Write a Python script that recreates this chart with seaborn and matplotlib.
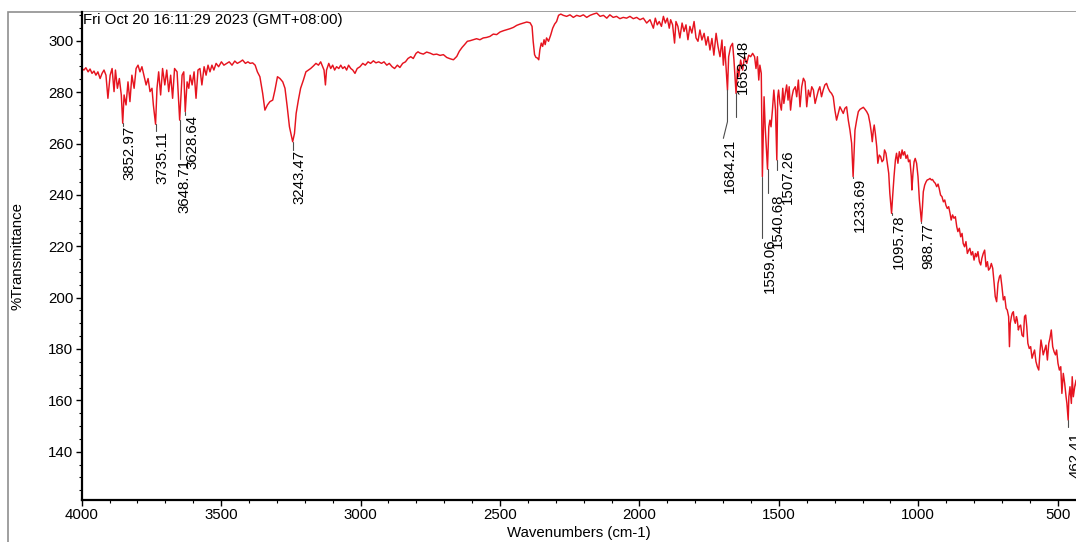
import matplotlib
matplotlib.use("Agg")
import matplotlib.pyplot as plt
from matplotlib.patches import Rectangle
from matplotlib.ticker import MultipleLocator
import pandas as pd
import seaborn as sns

# ---- FTIR spectrum, %Transmittance vs wavenumber (cm-1) ----
wn_4000_3400 = [4000, 3992, 3985, 3977, 3970, 3963, 3956, 3949, 3942, 3934,
                3927, 3920, 3913, 3906, 3898, 3891, 3884, 3879, 3872, 3865,
                3858, 3852.97, 3848, 3841, 3834, 3827, 3820, 3812, 3805, 3798,
                3791, 3784, 3777, 3769, 3762, 3755, 3748, 3743, 3735.11, 3730,
                3724, 3717, 3710, 3702, 3695, 3688, 3681, 3674, 3667, 3658,
                3648.71, 3640, 3634, 3628.64, 3622, 3616, 3611, 3604, 3597, 3590,
                3583, 3576, 3569, 3561, 3554, 3547, 3540, 3533, 3526, 3518,
                3509, 3499, 3490, 3480, 3471, 3461, 3451, 3442, 3432, 3423,
                3413, 3404]
t_4000_3400 = [289.2, 288.6, 289.5, 287.9, 289.0, 287.3, 288.2, 286.6, 287.9, 285.3,
               287.3, 288.6, 286.6, 277.6, 286.6, 289.2, 280.2, 288.6, 281.5, 285.3,
               278.9, 267.9, 278.9, 275.0, 284.0, 276.3, 286.6, 281.5, 289.2, 290.5,
               287.9, 289.9, 286.6, 282.8, 285.3, 280.2, 281.5, 275.0, 267.5, 281.5,
               287.9, 278.9, 289.2, 282.8, 288.6, 280.2, 286.6, 277.6, 289.2, 287.9,
               269.1, 286.6, 287.9, 272.4, 284.0, 281.5, 286.6, 282.8, 287.9, 277.6,
               288.6, 289.2, 282.8, 289.9, 286.6, 290.5, 287.9, 290.5, 288.6, 291.2,
               289.9, 291.8, 290.5, 291.2, 291.8, 290.5, 292.1, 291.2, 291.8, 292.5,
               291.2, 291.8]

wn_3400_2790 = [3396, 3387, 3378, 3370, 3361, 3351, 3343, 3334, 3325, 3315,
                3307, 3298, 3289, 3279, 3271, 3263, 3255, 3243.47, 3237, 3231,
                3223, 3215, 3205, 3196, 3187, 3179, 3169, 3160, 3151, 3143,
                3136, 3131, 3126, 3122, 3114, 3107, 3100, 3093, 3086, 3078,
                3071, 3064, 3057, 3050, 3043, 3035, 3028, 3020, 3012, 3002,
                2992, 2983, 2973, 2964, 2954, 2945, 2935, 2925, 2916, 2906,
                2897, 2887, 2878, 2868, 2859, 2849, 2839, 2830, 2820, 2811,
                2801, 2794]
t_3400_2790 = [291.2, 291.4, 290.5, 287.9, 286.0, 279.5, 273.0, 275.0, 276.3, 276.9,
               280.8, 286.0, 285.3, 284.0, 281.5, 274.3, 266.5, 260.7, 263.9, 271.7,
               276.9, 281.5, 284.7, 287.9, 288.6, 289.2, 290.2, 291.2, 290.5, 291.8,
               289.9, 288.6, 282.8, 288.6, 291.2, 289.2, 290.5, 288.6, 289.9, 289.2,
               290.5, 289.2, 289.9, 288.6, 290.5, 289.2, 288.6, 287.3, 289.2, 289.9,
               291.2, 290.5, 291.8, 291.2, 292.2, 291.4, 291.8, 291.2, 291.8, 290.5,
               291.2, 289.9, 289.2, 290.5, 289.6, 291.2, 291.8, 293.1, 293.8, 293.1,
               295.1, 295.7]

wn_2790_1790 = [2787, 2775, 2763, 2751, 2739, 2727, 2715, 2703, 2691, 2679,
                2667, 2655, 2646, 2636, 2627, 2617, 2608, 2596, 2584, 2572,
                2560, 2548, 2536, 2524, 2512, 2500, 2488, 2476, 2464, 2452,
                2440, 2428, 2416, 2404, 2392, 2385, 2381, 2376, 2371, 2366,
                2361, 2357, 2352, 2347, 2342, 2338, 2333, 2326, 2318, 2311,
                2304, 2297, 2290, 2282, 2273, 2261, 2249, 2237, 2225, 2213,
                2201, 2189, 2177, 2165, 2153, 2141, 2129, 2117, 2106, 2094,
                2082, 2070, 2058, 2046, 2034, 2022, 2010, 1998, 1986, 1974,
                1962, 1950, 1943, 1936, 1929, 1921, 1914, 1907, 1900, 1893,
                1888, 1881, 1874, 1869, 1862, 1855, 1847, 1840, 1833, 1826,
                1819, 1812, 1804, 1797, 1790]
t_2790_1790 = [295.2, 294.8, 295.6, 295.2, 294.6, 294.8, 294.3, 294.6, 293.5, 293.0,
               292.6, 293.9, 295.9, 297.4, 298.5, 299.8, 300.0, 300.4, 300.8, 300.4,
               301.1, 301.3, 301.7, 302.6, 302.4, 303.4, 303.9, 304.3, 304.7, 305.2,
               306.0, 306.5, 306.9, 307.3, 307.0, 305.6, 299.8, 294.6, 293.5, 293.3,
               292.6, 296.5, 299.1, 297.8, 300.4, 298.5, 301.1, 299.8, 302.3, 304.9,
               306.5, 307.5, 309.9, 310.4, 309.9, 309.5, 310.1, 309.1, 309.9, 309.5,
               310.1, 309.1, 309.9, 310.4, 310.8, 309.5, 309.9, 308.8, 310.1, 309.1,
               309.5, 308.6, 309.1, 308.8, 309.5, 308.6, 309.1, 308.2, 308.8, 306.9,
               308.2, 304.9, 308.8, 306.2, 307.5, 305.6, 309.5, 306.9, 308.8, 304.9,
               308.2, 306.2, 299.1, 307.5, 305.6, 301.1, 306.9, 303.6, 306.2, 300.4,
               305.6, 303.0, 307.5, 301.1, 299.8]

wn_1790_1230 = [1783, 1776, 1768, 1761, 1754, 1747, 1740, 1733, 1725, 1718,
                1711, 1704, 1699, 1694, 1684.21, 1680, 1673, 1666, 1661, 1653.48,
                1648, 1644, 1637, 1630, 1623, 1615, 1608, 1601, 1594, 1587,
                1582, 1577, 1572, 1568, 1563, 1559.06, 1553, 1549, 1540.68, 1536,
                1532, 1528, 1523, 1518, 1512, 1507.26, 1504, 1501, 1496, 1491,
                1486, 1482, 1477, 1472, 1467, 1463, 1458, 1453, 1448, 1441,
                1436, 1430, 1424, 1418, 1412, 1406, 1400, 1394, 1388, 1382,
                1376, 1370, 1364, 1358, 1353, 1347, 1341, 1335, 1329, 1323,
                1317, 1311, 1305, 1299, 1293, 1287, 1281, 1275, 1269, 1263,
                1257, 1251, 1245, 1239, 1233.69]
t_1790_1230 = [304.2, 300.3, 302.9, 298.3, 301.6, 296.4, 300.9, 294.4, 302.9, 297.7,
               293.8, 300.3, 290.5, 297.7, 280.8, 293.8, 297.7, 299.0, 292.5, 279.5,
               289.9, 286.0, 292.5, 288.6, 293.8, 291.2, 294.4, 293.8, 295.1, 293.8,
               289.2, 293.8, 284.7, 290.5, 287.3, 247.1, 278.2, 266.5, 250.0, 266.5,
               269.1, 266.5, 273.0, 280.8, 273.0, 253.6, 278.2, 280.8, 275.6, 273.0,
               281.5, 275.6, 279.5, 282.8, 276.9, 282.1, 273.0, 278.2, 280.8, 282.1,
               278.2, 284.7, 274.3, 282.1, 285.4, 284.1, 274.3, 280.8, 278.2, 282.1,
               280.8, 275.6, 278.2, 280.8, 282.1, 278.2, 280.8, 282.8, 283.4, 281.5,
               280.2, 279.5, 278.2, 273.0, 269.1, 271.7, 274.3, 273.0, 271.7, 273.7,
               274.3, 269.1, 265.2, 260.1, 247.1]

wn_1230_740 = [1227, 1221, 1215, 1209, 1203, 1197, 1191, 1185, 1179, 1173,
               1168, 1165, 1161, 1158, 1154, 1149, 1145, 1140, 1135, 1130,
               1125, 1121, 1116, 1111, 1106, 1102, 1095.78, 1092, 1087, 1082,
               1078, 1073, 1068, 1063, 1058, 1054, 1049, 1044, 1039, 1035,
               1030, 1025, 1023, 1019, 1015, 1011, 1006, 1001, 996, 988.77,
               985, 982, 977, 972, 968, 963, 958, 953, 949, 944,
               939, 934, 929, 925, 920, 915, 910, 905, 901, 896,
               891, 886, 882, 877, 872, 867, 862, 858, 853, 848,
               843, 839, 834, 829, 824, 819, 815, 810, 805, 800,
               795, 791, 786, 781, 776, 772, 767, 762, 757, 752,
               748, 743]
t_1230_740 = [265.2, 269.1, 272.4, 273.3, 273.7, 274.1, 273.3, 272.4, 271.1, 267.8,
              263.9, 260.7, 265.2, 267.2, 263.9, 258.8, 252.3, 255.5, 254.9, 252.9,
              253.6, 257.5, 256.2, 252.3, 248.4, 240.6, 232.8, 239.3, 247.1, 253.6,
              256.2, 252.3, 256.8, 254.2, 257.5, 255.5, 256.8, 254.2, 255.5, 252.9,
              253.6, 247.1, 241.9, 248.4, 252.9, 254.2, 252.3, 247.1, 238.0, 229.6,
              235.4, 241.2, 243.8, 245.1, 245.8, 246.0, 246.4, 245.8, 246.0, 245.1,
              244.5, 243.2, 244.2, 242.5, 239.9, 239.3, 237.3, 238.0, 236.0, 234.7,
              235.4, 232.8, 230.2, 232.2, 230.9, 231.5, 227.6, 225.7, 227.0, 223.7,
              225.0, 221.1, 219.8, 221.8, 217.2, 218.5, 219.2, 216.6, 217.9, 214.6,
              217.2, 215.9, 217.9, 214.0, 212.7, 215.3, 217.2, 218.5, 212.0, 214.0,
              210.7, 211.4]

wn_740_430 = [738, 733, 728, 724, 719, 714, 709, 705, 700, 695,
              690, 685, 681, 676, 673, 670, 666, 663, 659, 656,
              652, 648, 645, 641, 638, 633, 628, 623, 619, 615,
              611, 607, 602, 597, 592, 587, 583, 578, 573, 568,
              563, 560, 556, 552, 547, 542, 537, 532, 528, 523,
              518, 513, 508, 504, 499, 494, 489, 485, 480, 475,
              470, 467, 462.41, 460, 456, 451, 448, 444, 439, 434,
              430]
t_740_430 = [213.3, 211.4, 205.6, 200.4, 198.4, 205.6, 208.1, 208.8, 204.3, 199.1,
             200.4, 195.8, 195.2, 192.6, 180.9, 190.0, 192.6, 193.9, 194.5, 191.3,
             190.0, 192.6, 191.3, 187.4, 188.7, 189.3, 185.4, 184.8, 192.6, 193.2,
             188.7, 182.2, 180.2, 180.9, 176.4, 178.3, 179.6, 175.1, 173.1, 171.8,
             179.6, 183.5, 180.9, 177.7, 179.6, 181.5, 175.7, 182.2, 184.1, 187.4,
             180.9, 178.9, 177.7, 179.6, 174.4, 171.8, 173.1, 162.7, 170.5, 166.6,
             161.4, 158.8, 152.3, 161.4, 165.3, 158.8, 169.2, 161.4, 165.3, 167.9,
             163.0]

# ---- picked peaks ----
peak_labels = ["3852.97", "3735.11", "3648.71", "3628.64", "3243.47", "1684.21",
               "1653.48", "1559.06", "1540.68", "1507.26", "1233.69", "1095.78",
               "988.77", "462.41"]
peak_wn = [3852.97, 3735.11, 3648.71, 3628.64, 3243.47, 1684.21,
           1653.48, 1559.06, 1540.68, 1507.26, 1233.69, 1095.78,
           988.77, 462.41]
peak_t = [267.9, 267.5, 269.1, 272.4, 260.7, 280.8,
          279.5, 247.1, 250.0, 253.6, 247.1, 232.8,
          229.6, 152.3]

# label placement: leader end (%T), text anchor (cm-1, %T of the text's upper end)
leader_end = [266.8, 264.9, 254.0, 271.1, 257.4, 268.5,
              270.3, 223.2, 240.6, 249.7, 246.6, 232.2,
              229.0, 149.6]
text_x = [3852.97, 3735.11, 3658, 3628.64, 3243.47, 1699,
          1653.48, 1559.06, 1528, 1492, 1233.69, 1095.78,
          988.77, 462.41]
text_top = [266.8, 264.9, 254.0, 271.1, 257.4, 262.0,
            300.3, 223.2, 240.6, 257.5, 246.6, 232.2,
            229.0, 147.7]

TITLE = "Fri Oct 20 16:11:29 2023 (GMT+08:00)"
FS = 10.8

sns.set_theme(style="ticks")
plt.rcParams["font.family"] = ["Liberation Sans", "DejaVu Sans"]
plt.rcParams["axes.facecolor"] = "white"
plt.rcParams["figure.facecolor"] = "white"

spectrum = pd.DataFrame({
    "Wavenumber": wn_4000_3400 + wn_3400_2790 + wn_2790_1790 + wn_1790_1230
                  + wn_1230_740 + wn_740_430,
    "Transmittance": t_4000_3400 + t_3400_2790 + t_2790_1790 + t_1790_1230
                     + t_1230_740 + t_740_430,
})

W, H = 1076, 542
fig = plt.figure(figsize=(W / 100, H / 100), dpi=100)
ax_left, ax_bottom, ax_top = 81.7 / W, 42 / H, 1 - 12 / H
ax = fig.add_axes([ax_left, ax_bottom, 1 - ax_left, ax_top - ax_bottom])

sns.lineplot(data=spectrum, x="Wavenumber", y="Transmittance", ax=ax,
             color="#e6141f", linewidth=1.05, estimator=None, sort=False)

ax.set_xlim(4000, 434.4)
ax.set_ylim(121.2, 311.2)

# peak leaders and labels
for i, lab in enumerate(peak_labels):
    if lab == "1684.21":
        ax.plot([peak_wn[i], peak_wn[i], text_x[i]],
                [peak_t[i], leader_end[i], text_top[i]],
                color="#4d4d4d", lw=0.8, zorder=3)
    else:
        ax.plot([peak_wn[i], peak_wn[i]], [peak_t[i], leader_end[i]],
                color="#4d4d4d", lw=0.8, zorder=3)
    ax.text(text_x[i], text_top[i], lab, rotation=90, ha="left", va="top",
            fontsize=FS, color="black", zorder=4)

ax.text(0.001, 0.998, TITLE, transform=ax.transAxes, ha="left", va="top",
        fontsize=FS, color="black")

ax.xaxis.set_major_locator(MultipleLocator(500))
ax.xaxis.set_minor_locator(MultipleLocator(100))
ax.yaxis.set_major_locator(MultipleLocator(20))
ax.yaxis.set_minor_locator(MultipleLocator(5))
ax.tick_params(which="major", direction="out", length=4, width=1,
               color="black", labelsize=FS, labelcolor="black", pad=2)
ax.tick_params(which="minor", direction="out", length=2.5, width=0.8,
               color="black")

for side in ("top", "right"):
    ax.spines[side].set_visible(False)
for side in ("left", "bottom"):
    ax.spines[side].set_color("black")
    ax.spines[side].set_linewidth(1.6)

ax.set_xlabel("Wavenumbers (cm-1)", fontsize=FS, color="black", labelpad=3)
ax.set_ylabel("%Transmittance", fontsize=FS, color="black")
ax.yaxis.set_label_coords(-0.058, 0.5)
ax.grid(False)

# outer plot frame
fig.add_artist(Rectangle((8 / W, -0.05), 1.2, ax_top + 0.05,
                         transform=fig.transFigure, fill=False,
                         edgecolor="#8f8f8f", linewidth=1.2, zorder=0))

fig.savefig("out.png", dpi=100)
